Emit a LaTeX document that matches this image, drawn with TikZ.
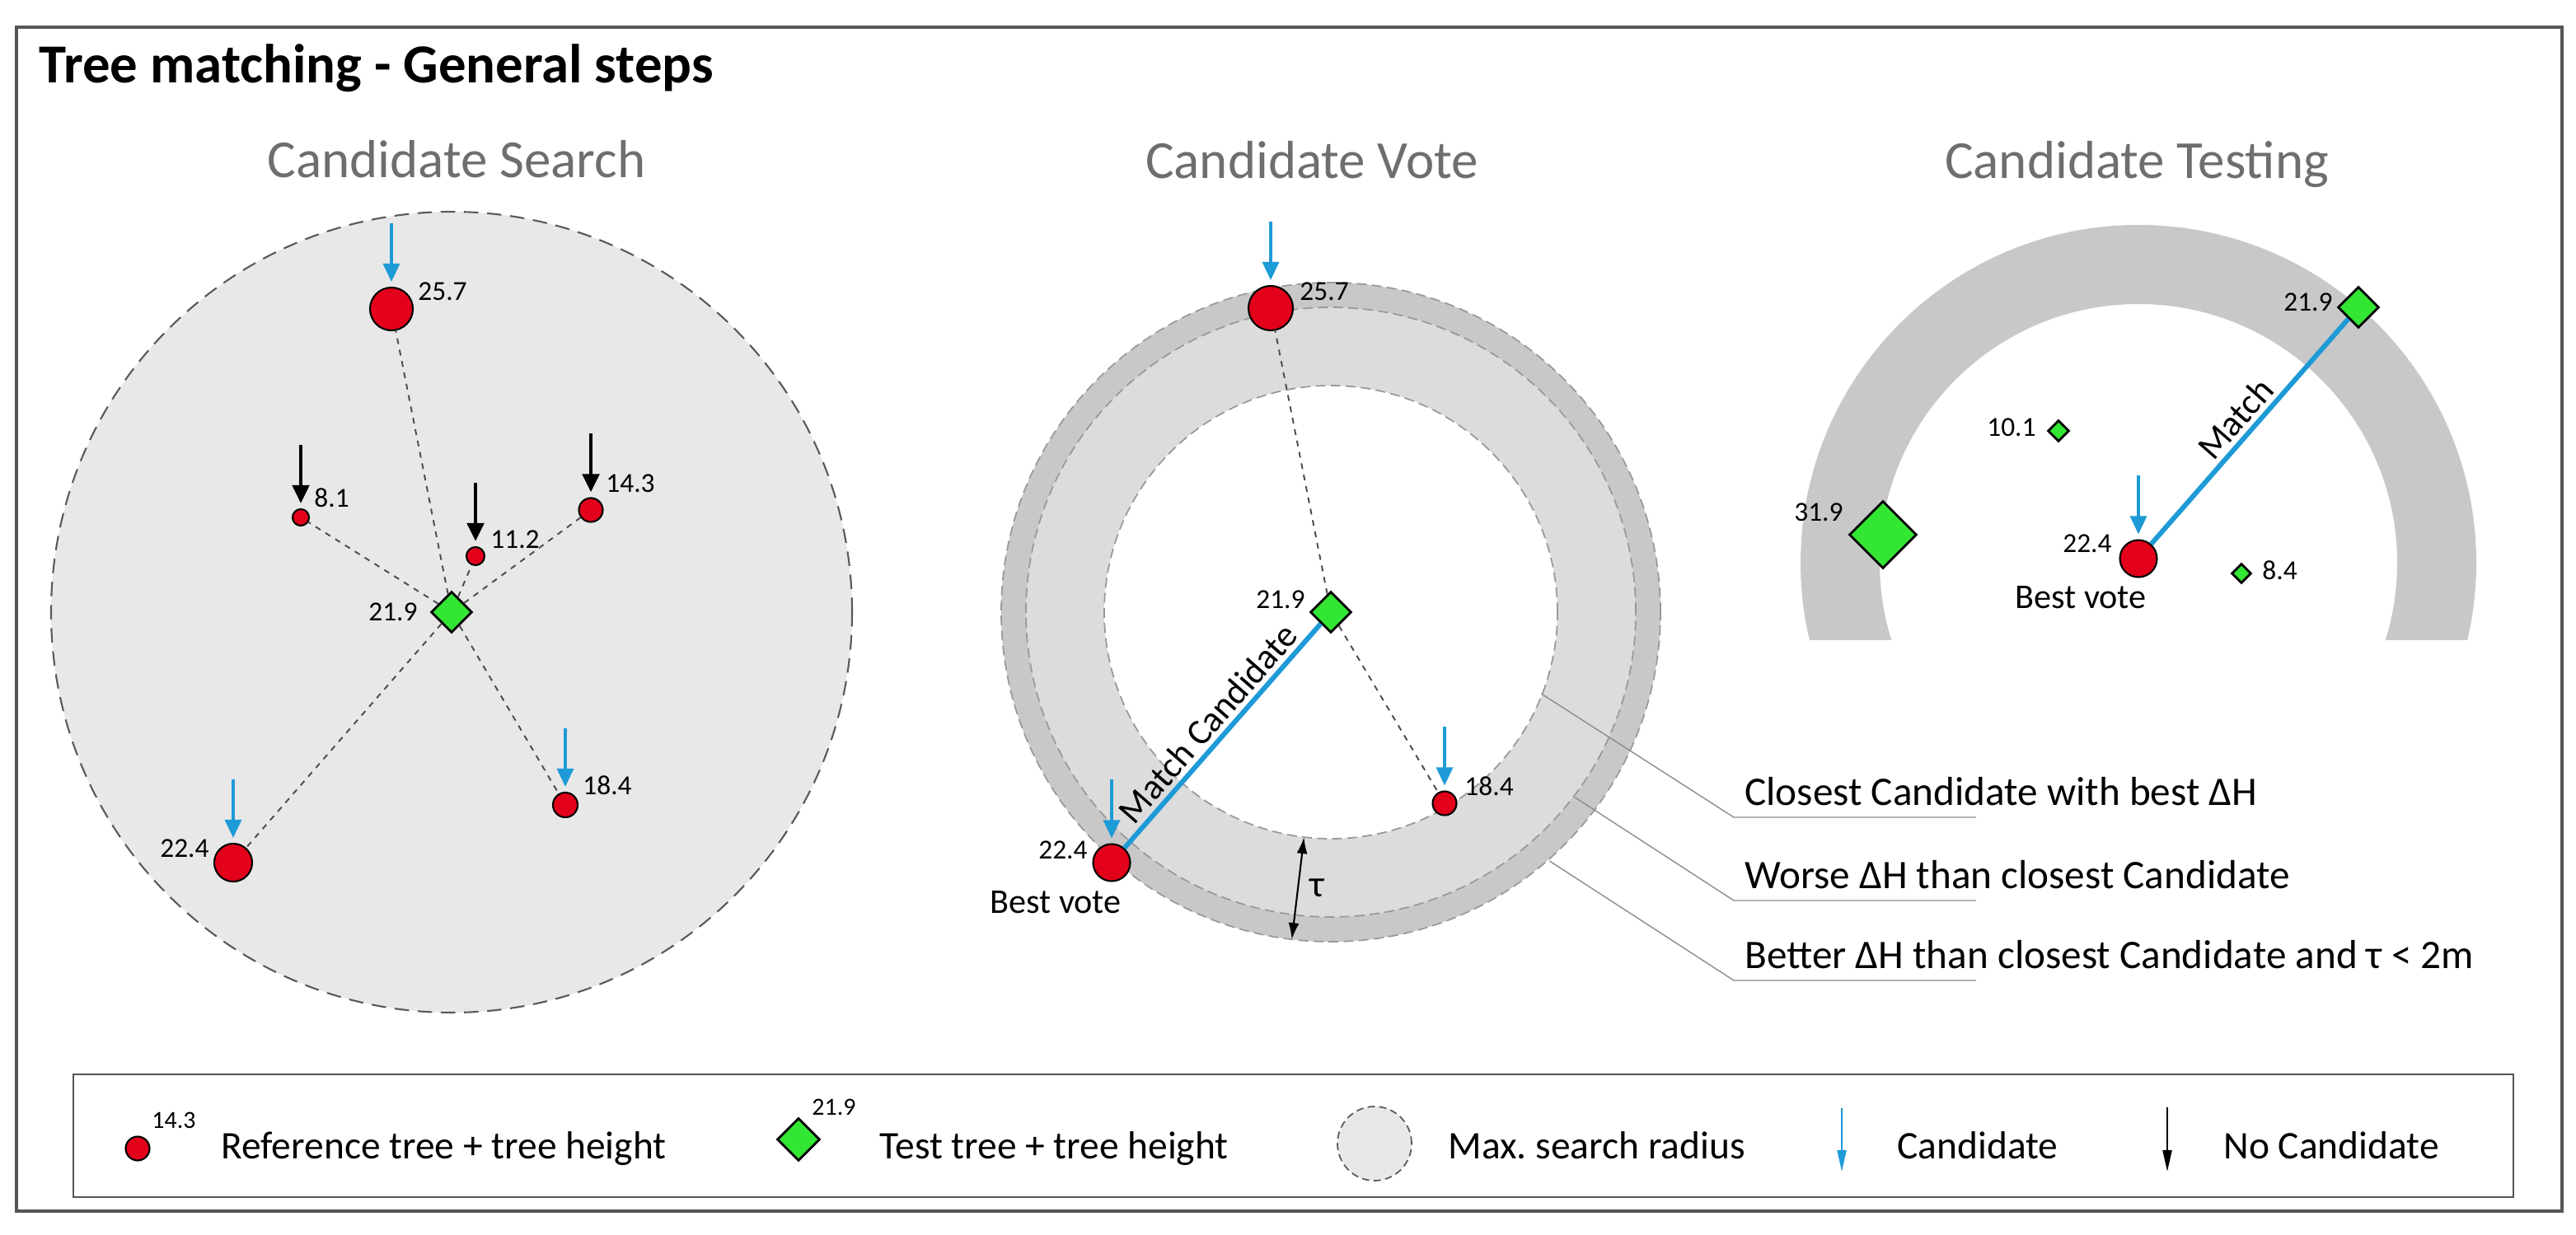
\documentclass[tikz,border=0pt]{standalone}
\usepackage{fontspec}
\setmainfont{Carlito}
\usepackage{tikz}
\usetikzlibrary{shapes.geometric, arrows.meta, positioning, calc}
\definecolor{treered}{HTML}{E2001A}
\definecolor{treegreen}{HTML}{33E633}
\definecolor{candblue}{HTML}{1E9BD7}
\definecolor{searchbg}{HTML}{E8E8E8}
\definecolor{bandlight}{HTML}{DCDCDC}
\definecolor{banddark}{HTML}{C8C8C8}
\definecolor{headgray}{HTML}{6E6E6E}
\definecolor{framegray}{HTML}{555555}
\frenchspacing

\begin{document}
\begin{tikzpicture}[
    every node/.style={font=\fontsize{9.5}{11}\selectfont, inner sep=0.5pt},
    reftree/.style={circle, draw=black, line width=0.6pt, fill=treered,
                    inner sep=0pt, minimum size=#1},
    testtree/.style={diamond, draw=black, line width=0.8pt, fill=treegreen,
                     inner sep=0pt, minimum size=#1},
    hdr/.style={font=\fontsize{18.5}{22}\selectfont, text=headgray, anchor=base},
    txt/.style={font=\fontsize{14}{16}\selectfont, anchor=base west},
    legtxt/.style={font=\fontsize{13.5}{16}\selectfont, anchor=base west},
    legval/.style={font=\fontsize{8.5}{10}\selectfont, anchor=west},
    matchtxt/.style={sloped, above=1pt, text=black, font=\fontsize{12.5}{14}\selectfont},
    cand/.style={-{Triangle[length=0.22cm, width=0.2cm]}, line width=0.9pt,
                 candblue, shorten >=0.06cm},
    nocand/.style={-{Triangle[length=0.22cm, width=0.2cm]}, line width=1.4pt,
                   black, shorten >=0.06cm},
    link/.style={dash pattern=on 2pt off 2pt, line width=0.55pt, black!70},
    ringline/.style={dash pattern=on 3.4pt off 1.8pt, line width=0.5pt, black!40},
    matchline/.style={line width=1.7pt, candblue},
    leader/.style={line width=0.4pt, black!45}
  ]
    \useasboundingbox (0,0) rectangle (31.26,-14.98);
    \draw[framegray, line width=0.9pt] (0.20,-0.33) rectangle (31.09,-14.70);

    \node[anchor=base west, font=\fontsize{19}{22}\selectfont\bfseries] (title)
      at (0.45,-1.00) {Tree matching - General steps};

    \node[hdr] (hsearch) at (5.54,-2.15) {Candidate Search};
    \node[hdr] (hvote) at (15.92,-2.16) {Candidate Vote};
    \node[hdr] (htest) at (25.93,-2.16) {Candidate Testing};

    % (1) search radius
    \coordinate (sc) at (5.48,-7.43);
    \fill[searchbg] (sc) circle (4.86);
    \draw[black!65, line width=0.6pt, dash pattern=on 5pt off 3pt] (sc) circle (4.86);

    \node[testtree=0.5cm] (s219) at (sc) {};
    \node[reftree=0.52cm] (s257) at (4.75,-3.75) {};
    \node[reftree=0.20cm] (s81) at (3.65,-6.28) {};
    \node[reftree=0.22cm] (s112) at (5.77,-6.75) {};
    \node[reftree=0.29cm] (s143) at (7.17,-6.19) {};
    \node[reftree=0.30cm] (s184) at (6.86,-9.77) {};
    \node[reftree=0.46cm] (s224) at (2.83,-10.47) {};

    \node[anchor=west] (s257v) at (5.05,-3.54) {25.7};
    \node[anchor=west] (s81v) at (3.79,-6.04) {8.1};
    \node[anchor=west] (s112v) at (5.93,-6.55) {11.2};
    \node[anchor=west] (s143v) at (7.33,-5.87) {14.3};
    \node[anchor=west] (s184v) at (7.05,-9.53) {18.4};
    \node[anchor=east] (s224v) at (2.56,-10.30) {22.4};
    \node[anchor=east] (s219v) at (5.09,-7.43) {21.9};

    \foreach \t in {s257, s81, s112, s143, s184, s224}
      \draw[link] (s219) -- (\t);

    \foreach \t/\s in {s257/cand, s184/cand, s224/cand,
                       s81/nocand, s112/nocand, s143/nocand} {
      \coordinate[above=0.77cm of \t] (top\t);
      \draw[\s] (top\t) -- (\t);
    }

    % (2) vote ring
    \coordinate (vc) at (16.15,-7.43);
    \fill[banddark] (vc) circle (4.00);
    \fill[bandlight] (vc) circle (3.70);
    \fill[white] (vc) circle (2.75);
    \foreach \r in {2.75, 3.70, 4.00}
      \draw[ringline] (vc) circle (\r);

    \node[testtree=0.5cm] (v219) at (vc) {};
    \node[reftree=0.54cm] (v257) at (15.42,-3.74) {};
    \node[reftree=0.29cm] (v184) at (17.53,-9.75) {};
    \node[reftree=0.45cm] (v224) at (13.49,-10.47) {};

    \node[anchor=west] (v257v) at (15.75,-3.54) {25.7};
    \node[anchor=east] (v219v) at (15.86,-7.28) {21.9};
    \node[anchor=west] (v184v) at (17.75,-9.54) {18.4};
    \node[anchor=east] (v224v) at (13.22,-10.32) {22.4};
    \node[font=\fontsize{12}{14}\selectfont] (v224b) at (12.81,-10.95) {Best vote};

    \draw[link] (v219) -- (v257);
    \draw[link] (v219) -- (v184);
    \draw[matchline] (v224) -- node[matchtxt] (vmatch) {Match Candidate} (v219);

    \foreach \t in {v257, v184, v224} {
      \coordinate[above=0.77cm of \t] (top\t);
      \draw[cand] (top\t) -- (\t);
    }

    \coordinate (tauin) at ($(vc)+(-96.8:2.75)$);
    \coordinate (tauout) at ($(vc)+(-96.8:4.0)$);
    \draw[{Latex[length=0.2cm, width=0.13cm]}-{Latex[length=0.2cm, width=0.13cm]},
          line width=0.6pt] (tauin) -- node[right=0.12cm, font=\fontsize{13}{15}\selectfont]
      (tau) {τ} (tauout);

    % ring explanations
    \node[txt] (lbest) at (21.15,-9.77) {Closest Candidate with best ΔH};
    \node[txt] (lworse) at (21.15,-10.78) {Worse ΔH than closest Candidate};
    \node[txt] (lbetter) at (21.15,-11.75) {Better ΔH than closest Candidate and τ < 2m};
    \coordinate (rbest) at ($(vc)+(-21.2:2.74)$);
    \coordinate (rworse) at ($(vc)+(-37.2:3.72)$);
    \coordinate (rbetter) at ($(vc)+(-48.7:4.02)$);
    \foreach \n in {best, worse, better}
      \draw[leader] (r\n) -- ([shift={(-0.11,-0.15)}]l\n.base west) -- ++(2.94,0);

    % (3) testing arc
    \coordinate (tc) at (25.95,-6.83);
    \begin{scope}
      \clip (21,-2.4) rectangle (31,-7.76);
      \fill[banddark, even odd rule] (tc) circle (4.10) (tc) circle (3.14);
    \end{scope}

    \node[reftree=0.45cm] (t224) at (25.95,-6.78) {};
    \node[testtree=0.5cm] (t219) at (28.62,-3.73) {};
    \node[testtree=0.26cm] (t101) at (24.98,-5.23) {};
    \node[testtree=0.82cm] (t319) at (22.85,-6.49) {};
    \node[testtree=0.24cm] (t84) at (27.20,-6.96) {};

    \node[anchor=east] (t219v) at (28.33,-3.67) {21.9};
    \node[anchor=east] (t101v) at (24.73,-5.19) {10.1};
    \node[anchor=east] (t319v) at (22.39,-6.22) {31.9};
    \node[anchor=east] (t224v) at (25.65,-6.60) {22.4};
    \node[anchor=west] (t84v) at (27.43,-6.92) {8.4};
    \node[font=\fontsize{12}{14}\selectfont] (t224b) at (25.25,-7.25) {Best vote};

    \coordinate[above=0.77cm of t224] (topt224);
    \draw[cand] (topt224) -- (t224);
    \draw[matchline] (t224) -- node[matchtxt] (tmatch) {Match} (t219);

    % Legend
    \draw[framegray, line width=0.8pt] (0.89,-13.04) rectangle (30.50,-14.53);
    \node[reftree=0.29cm] (kref) at (1.67,-13.94) {};
    \node[legval] (krefv) at (1.82,-13.60) {14.3};
    \node[testtree=0.52cm] (ktest) at (9.69,-13.83) {};
    \node[legval] (ktestv) at (9.83,-13.44) {21.9};
    \node[circle, fill=searchbg, draw=black!65, dash pattern=on 2.5pt off 1.5pt,
          line width=0.5pt, minimum size=0.9cm, inner sep=0pt] (kradius) at (16.68,-13.88) {};
    \coordinate (kcanda) at (22.35,-13.45);
    \coordinate (kcandb) at (22.35,-14.22);
    \draw[candblue, line width=0.6pt, -{Triangle[length=0.26cm, width=0.11cm]}] (kcanda) -- (kcandb);
    \coordinate (knoa) at (26.30,-13.44);
    \coordinate (knob) at (26.30,-14.22);
    \draw[black, line width=0.6pt, -{Triangle[length=0.26cm, width=0.11cm]}] (knoa) -- (knob);

    \foreach \x/\name/\txt in {2.66/kreft/Reference tree + tree height,
                               10.65/ktestt/Test tree + tree height,
                               17.55/kradiust/Max. search radius,
                               23.00/kcandt/Candidate,
                               26.96/knot/No Candidate} {
      \node[legtxt] (\name) at (\x,-14.06) {\txt};
    }
  \end{tikzpicture}
\end{document}
